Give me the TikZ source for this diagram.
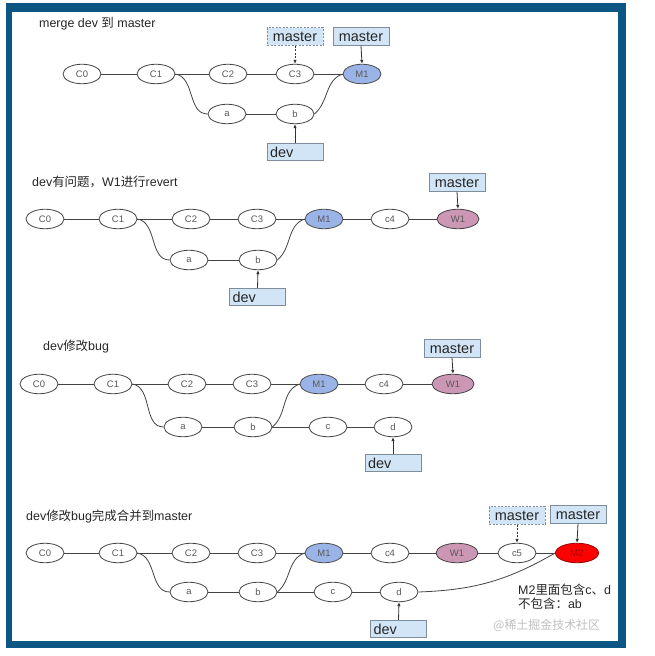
\documentclass[tikz,border=0pt]{standalone}
\usepackage{fontspec}
\setmainfont{Liberation Sans}
\newfontfamily\cjk{Noto Sans CJK SC}
\usetikzlibrary{shapes.geometric,arrows.meta}
\definecolor{frameblue}{HTML}{0B5682}
\definecolor{boxfill}{HTML}{D2E5F6}
\definecolor{boxline}{HTML}{7F8C99}
\definecolor{mblue}{HTML}{9AB4E8}
\definecolor{wpink}{HTML}{CC97B5}
\definecolor{linegray}{HTML}{444444}
\tikzset{
 commit/.style={ellipse, draw=linegray, line width=0.8bp, fill=white, minimum width=38bp, minimum height=19.5bp, inner sep=0pt, font=\fontsize{9.5}{10}\selectfont, text=black!65},
 merged/.style={commit, fill=mblue, draw=black!70},
 revert/.style={commit, fill=wpink, minimum width=42bp},
 newmerge/.style={commit, fill=red, draw=red!60!black, minimum width=43bp, text=red!60!black},
 ref/.style={rectangle, draw=boxline, fill=boxfill, line width=0.8bp, minimum width=56bp, minimum height=17.5bp, inner sep=0pt, font=\fontsize{14.5}{16}\selectfont, text=black!85},
 refdash/.style={ref, dashed, dash pattern=on 2bp off 1.5bp},
 devref/.style={ref, text width=50bp, align=left, inner xsep=3bp},
 link/.style={draw=linegray, line width=0.8bp},
 ptr/.style={draw=black!80, line width=0.8bp, -{Latex[length=4bp,width=3.5bp]}},
 dptr/.style={ptr, dashed, dash pattern=on 2bp off 1.5bp},
 title/.style={anchor=west, font=\fontsize{12.5}{14}\selectfont, text=black!85, inner sep=0pt},
}
\begin{document}
\begin{tikzpicture}[x=1bp,y=1bp]
\useasboundingbox (0,0) rectangle (655,656);
\fill[white] (0,0) rectangle (655,656);
\fill[frameblue] (6,8) rectangle (626,653);
\fill[white] (12,15) rectangle (618,644);

% ---------- panel 1 ----------
\node[title] (t1) at (39,632) {merge dev {\cjk 到} master};
\node[commit] (p1C0) at (82,582) {C0};
\node[commit] (p1C1) at (156,582) {C1};
\node[commit] (p1C2) at (228,582) {C2};
\node[commit] (p1C3) at (295,582) {C3};
\node[merged] (p1M1) at (362,582) {M1};
\node[commit] (p1a) at (227,542) {a};
\node[commit] (p1b) at (295,542) {b};
\node[refdash] (p1mo) at (295,619.5) {master};
\node[ref] (p1m) at (361,619.5) {master};
\node[devref] (p1d) at (295,504) {dev};
\draw[link] (p1C0) -- (p1C1);
\draw[link] (p1C1) -- (p1C2);
\draw[link] (p1C2) -- (p1C3);
\draw[link] (p1C3) -- (p1M1);
\draw[link] (p1C1.east) to[out=-10,in=180] (p1a.west);
\draw[link] (p1a) -- (p1b);
\draw[link] (p1b.east) to[out=40,in=200] (p1M1.west);
\draw[dptr] (p1mo.south) -- (p1C3.north);
\draw[ptr] (p1m.south) -- (p1M1.north);
\draw[ptr] (p1d.north) -- (p1b.south);

% ---------- panel 2 ----------
\node[title] (t2) at (32,474) {dev{\cjk 有问题，}W1{\cjk 进行}revert};
\node[commit] (p2C0) at (45,437) {C0};
\node[commit] (p2C1) at (118,437) {C1};
\node[commit] (p2C2) at (191,437) {C2};
\node[commit] (p2C3) at (257,437) {C3};
\node[merged] (p2M1) at (324,437) {M1};
\node[commit] (p2c4) at (390,437) {c4};
\node[revert] (p2W1) at (458,437) {W1};
\node[commit] (p2a) at (189,396) {a};
\node[commit] (p2b) at (258,396) {b};
\node[ref] (p2m) at (457,473.5) {master};
\node[devref] (p2d) at (257.5,359) {dev};
\draw[link] (p2C0) -- (p2C1);
\draw[link] (p2C1) -- (p2C2);
\draw[link] (p2C2) -- (p2C3);
\draw[link] (p2C3) -- (p2M1);
\draw[link] (p2M1) -- (p2c4);
\draw[link] (p2c4) -- (p2W1);
\draw[link] (p2C1.east) to[out=-10,in=180] (p2a.west);
\draw[link] (p2a) -- (p2b);
\draw[link] (p2b.east) to[out=40,in=200] (p2M1.west);
\draw[ptr] (p2m.south) -- (p2W1.north);
\draw[ptr] (p2d.north) -- (p2b.south);

% ---------- panel 3 ----------
\node[title] (t3) at (43,309) {dev{\cjk 修改}bug};
\node[commit] (p3C0) at (39,272) {C0};
\node[commit] (p3C1) at (113,272) {C1};
\node[commit] (p3C2) at (187,272) {C2};
\node[commit] (p3C3) at (252,272) {C3};
\node[merged] (p3M1) at (319,272) {M1};
\node[commit] (p3c4) at (384,272) {c4};
\node[revert] (p3W1) at (453,272) {W1};
\node[commit] (p3a) at (183,229) {a};
\node[commit] (p3b) at (253,229) {b};
\node[commit] (p3c) at (328,229) {c};
\node[commit] (p3dd) at (393,229) {d};
\node[ref] (p3m) at (452,307.5) {master};
\node[devref] (p3d) at (393,193) {dev};
\draw[link] (p3C0) -- (p3C1);
\draw[link] (p3C1) -- (p3C2);
\draw[link] (p3C2) -- (p3C3);
\draw[link] (p3C3) -- (p3M1);
\draw[link] (p3M1) -- (p3c4);
\draw[link] (p3c4) -- (p3W1);
\draw[link] (p3C1.east) to[out=-10,in=180] (p3a.west);
\draw[link] (p3a) -- (p3b);
\draw[link] (p3b.east) to[out=40,in=200] (p3M1.west);
\draw[link] (p3b.east) -- (p3c.west);
\draw[link] (p3c) -- (p3dd);
\draw[ptr] (p3m.south) -- (p3W1.north);
\draw[ptr] (p3d.north) -- (p3dd.south);

% ---------- panel 4 ----------
\node[title] (t4) at (26,139) {dev{\cjk 修改}bug{\cjk 完成合并到}master};
\node[commit] (p4C0) at (45,103) {C0};
\node[commit] (p4C1) at (118,103) {C1};
\node[commit] (p4C2) at (191,103) {C2};
\node[commit] (p4C3) at (257,103) {C3};
\node[merged] (p4M1) at (324,103) {M1};
\node[commit] (p4c4) at (390,103) {c4};
\node[revert] (p4W1) at (457,103) {W1};
\node[commit] (p4c5) at (517,103) {c5};
\node[newmerge] (p4M2) at (577,103) {M2};
\node[commit] (p4a) at (189,64) {a};
\node[commit] (p4b) at (258,64) {b};
\node[commit] (p4c) at (333,64) {c};
\node[commit] (p4dd) at (399,64) {d};
\node[refdash] (p4mo) at (517,140.5) {master};
\node[ref] (p4m) at (578,141.5) {master};
\node[devref] (p4d) at (398.5,27) {dev};
\draw[link] (p4C0) -- (p4C1);
\draw[link] (p4C1) -- (p4C2);
\draw[link] (p4C2) -- (p4C3);
\draw[link] (p4C3) -- (p4M1);
\draw[link] (p4M1) -- (p4c4);
\draw[link] (p4c4) -- (p4W1);
\draw[link] (p4W1) -- (p4c5);
\draw[link] (p4c5) -- (p4M2);
\draw[link] (p4C1.east) to[out=-10,in=180] (p4a.west);
\draw[link] (p4a) -- (p4b);
\draw[link] (p4b.east) to[out=40,in=200] (p4M1.west);
\draw[link] (p4b.east) -- (p4c.west);
\draw[link] (p4c) -- (p4dd);
\draw[link] (p4dd.east) to[out=2,in=210] (p4M2.west);
\draw[dptr] (p4mo.south) -- (p4c5.north);
\draw[ptr] (p4m.south) -- (p4M2.north);
\draw[ptr] (p4d.north) -- (p4dd.south);
\node[anchor=north west, align=left, inner sep=0pt, font=\fontsize{12.5}{13.5}\selectfont, text=black!85] (note) at (518,72) {M2{\cjk 里面包含}c{\cjk 、}d\\{\cjk 不包含：}ab};
\node[anchor=west, inner sep=0pt, font=\cjk\fontsize{12}{13}\selectfont, text=black!25] (wm) at (493,31) {@稀土掘金技术社区};
\end{tikzpicture}
\end{document}
